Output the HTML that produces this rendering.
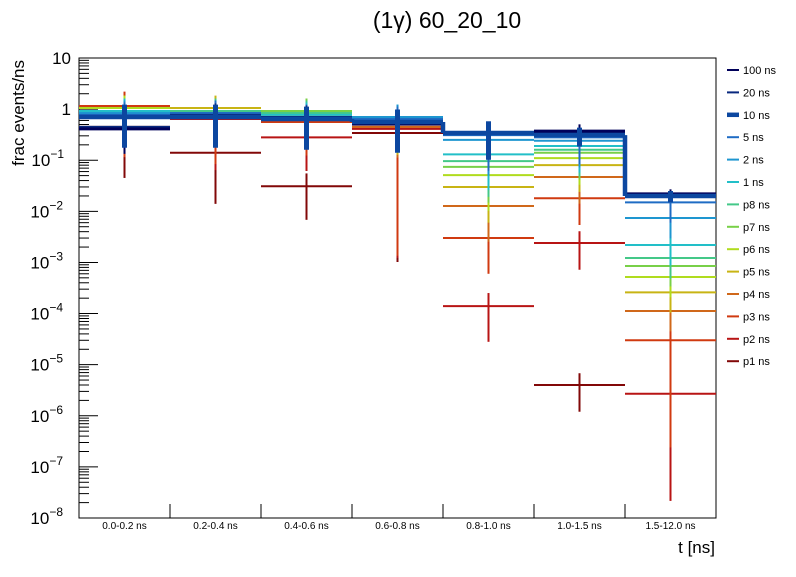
<!DOCTYPE html>
<html><head><meta charset="utf-8"><style>
body{margin:0;background:#fff}
svg text{font-family:"Liberation Sans",sans-serif}
</style></head><body>
<svg id="c" width="796" height="572" viewBox="0 0 796 572" xmlns="http://www.w3.org/2000/svg"></svg>
<script>
const categories=["0.0-0.2 ns","0.2-0.4 ns","0.4-0.6 ns","0.6-0.8 ns","0.8-1.0 ns","1.0-1.5 ns","1.5-12.0 ns"];
const seriesNames=["100 ns","20 ns","10 ns","5 ns","2 ns","1 ns","p8 ns","p7 ns","p6 ns","p5 ns","p4 ns","p3 ns","p2 ns","p1 ns"];
const v100=[0.41,0.70,0.64,0.51,0.34,0.37,0.022];
const v20=[0.45,0.77,0.70,0.56,0.34,0.34,0.020];
const v10=[0.70,0.70,0.64,0.56,0.34,0.31,0.020];
const v5=[0.77,0.84,0.70,0.64,0.31,0.28,0.015];
const v2=[0.84,0.84,0.70,0.70,0.25,0.24,0.0074];
const v1=[0.92,0.84,0.77,0.70,0.13,0.19,0.0022];
const vp8=[0.92,0.92,0.84,0.64,0.096,0.16,0.00122];
const vp7=[0.92,0.92,0.92,0.64,0.074,0.14,0.00085];
const vp6=[1.05,0.92,0.92,0.56,0.051,0.11,0.00052];
const vp5=[1.05,1.05,0.84,0.51,0.030,0.080,0.00026];
const vp4=[1.05,0.92,0.77,0.45,0.0127,0.047,0.000112];
const vp3=[1.15,0.84,0.56,0.45,0.0030,0.018,0.000030];
const vp2=[1.15,0.64,0.28,0.41,0.00014,0.0024,0.0000027];
const vp1=[0.45,0.14,0.031,0.34,null,0.000004,null];
const relErr10=[0.75,0.75,0.75,0.75,0.7,0.4,0.25];
const relErrMid=[0.75,0.75,0.75,0.75,0.8,0.7,0.6];
const relErrP=[0.9,0.9,0.78,0.997,0.8,0.7,0.992];
const yTickExp=[1,0,-1,-2,-3,-4,-5,-6,-7,-8];
const values=[v100,v20,v10,v5,v2,v1,vp8,vp7,vp6,vp5,vp4,vp3,vp2,vp1];
const colors=["#00005a","#08287e","#0c47a0","#1f6cc4","#1e96d0","#22bfc8","#44c888","#78d048","#b0dc1e","#c8b414","#d0681a","#d03a10","#b81414","#820808"];
const X0=79,X1=716,Y0=58,Y1=518,YMAX=1,YMIN=-8;
const svg=document.getElementById('c');const NS="http://www.w3.org/2000/svg";
function xs(i){return X0+(X1-X0)*i/categories.length}
function ys(v){return Y0+(YMAX-Math.log10(v))/(YMAX-YMIN)*(Y1-Y0)}
function el(t,a,p){const e=document.createElementNS(NS,t);for(const k in a)e.setAttribute(k,a[k]);(p||svg).appendChild(e);return e}
const frame=el('rect',{x:X0,y:Y0,width:X1-X0,height:Y1-Y0,fill:'none',stroke:'#000','stroke-width':1});


yTickExp.forEach(e=>{
  const y=ys(Math.pow(10,e));
  const t=el('line',{x1:X0,x2:X0+19,y1:y,y2:y,stroke:'#000'});
  
  
  const lb=el('text',{x:71,y:y+6,'text-anchor':'end','font-size':17});
  
  
  if(e===1)lb.textContent='10';else if(e===0)lb.textContent='1';
  else{lb.setAttribute('x',e<=-2?63:64);lb.textContent='10';const s=el('tspan',{dy:-8,'font-size':12},lb);s.textContent=String(e).replace('-','\u2212');}
  if(e>YMIN)for(let m=2;m<10;m++){const yy=ys(m*Math.pow(10,e-1));const mt=el('line',{x1:X0,x2:X0+10,y1:yy,y2:yy,stroke:'#000'});
    
    }
});
categories.forEach((c,i)=>{
  if(i>0){const t=el('line',{x1:xs(i),x2:xs(i),y1:Y1,y2:Y1-14,stroke:'#000'});
    
    }
  const lb=el('text',{x:(xs(i)+xs(i+1))/2,y:529,'text-anchor':'middle','font-size':10});
  lb.textContent=c;
  
  
});
const order=[13,12,11,10,9,8,7,6,5,4,3,1,0,2];
order.forEach(s=>{
  const g=el('g',{});
  
  
  const vals=values[s];const col=colors[s];const w=s===2?4.5:(s===0?3:2);
  vals.forEach((v,i)=>{
    if(v==null)return;
    const y=ys(v);
    const h=el('line',{x1:xs(i),x2:xs(i+1),y1:y,y2:y,stroke:col,'stroke-width':w},g);
    
    
    const r=s===2?relErr10[i]:(s>=11?relErrP[i]:(s<2?relErr10[i]*0.9:relErrMid[i]));
    const hi=v*(1+r),lo=Math.max(v*(1-r),1e-9);
    const cx=(xs(i)+xs(i+1))/2;
    const eb=el('line',{x1:cx,x2:cx,y1:Math.max(ys(hi),Y0),y2:Math.min(ys(lo),Y1),stroke:col,'stroke-width':s===2?5:2},g);
    
    
    if(s===2&&i>0&&vals[i-1]!=null){const cn=el('line',{x1:xs(i),x2:xs(i),y1:ys(vals[i-1]),y2:y,stroke:col,'stroke-width':w},g);
      
      }
  });
});
const lg=el('g',{});


seriesNames.forEach((n,i)=>{
  const y=70+i*22.4;
  const e=el('g',{},lg);
  
  
  el('line',{x1:727,x2:739,y1:y,y2:y,stroke:colors[i],'stroke-width':i===2?4.5:2},e);
  const t=el('text',{x:743,y:y+4,'font-size':11},e);t.textContent=n;
});
const title=el('text',{x:447,y:28,'text-anchor':'middle','font-size':23});title.textContent='(1\u03b3) 60_20_10';


const yt=el('text',{x:0,y:0,'text-anchor':'end','font-size':17,transform:'translate(24,60) rotate(-90)'});yt.textContent='frac events/ns';


const xt=el('text',{x:715,y:553,'text-anchor':'end','font-size':17});xt.textContent='t [ns]';


</script>
</body></html>
